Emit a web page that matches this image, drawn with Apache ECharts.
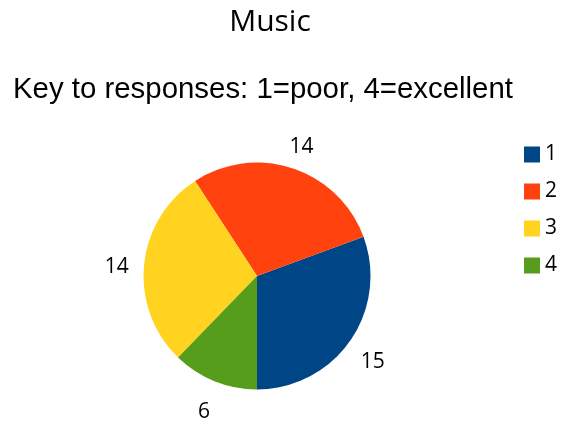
<!DOCTYPE html>
<html>
<head>
<meta charset="utf-8">
<script src="https://cdn.jsdelivr.net/npm/echarts@6/dist/echarts.min.js"></script>
<style>
html,body{margin:0;padding:0;background:#fff;}
#chart{width:576px;height:422px;}
</style>
</head>
<body>
<div id="chart"></div>
<script>
const titleText = 'Music';
const subtitleText = 'Key to responses: 1=poor, 4=excellent';
const categories = ['1', '2', '3', '4'];
const values = [15, 14, 14, 6];
const colors = ['#004586', '#ff420e', '#ffd320', '#579d1c'];

const pieData = categories.map((c, i) => ({ name: c, value: values[i], itemStyle: { color: colors[i] } }));
const labelData = categories.map((c, i) => ({ name: c, value: values[i] }));

const chart = echarts.init(document.getElementById('chart'), null, { renderer: 'canvas' });
chart.setOption({
  animation: false,
  backgroundColor: '#ffffff',
  title: [
    { text: titleText, left: 265, top: 2, textAlign: 'center',
      textStyle: { fontFamily: 'Open Sans', fontSize: 30, fontWeight: 'normal', color: '#000' } },
    { text: subtitleText, left: 13, top: 75, padding: 0,
      textStyle: { fontFamily: 'Liberation Sans', fontSize: 29.4, fontWeight: 'normal', color: '#000' } }
  ],
  legend: {
    orient: 'vertical', left: 519, top: 139,
    itemWidth: 16, itemHeight: 16, itemGap: 16,
    icon: 'rect',
    data: categories,
    textStyle: { fontFamily: 'Open Sans', fontSize: 21, color: '#000' }
  },
  series: [
    {
      type: 'pie', center: [257, 276], radius: 113.5,
      startAngle: 270, clockwise: false,
      label: { show: false }, labelLine: { show: false },
      itemStyle: { borderWidth: 0 },
      emphasis: { disabled: true },
      data: pieData
    },
    {
      type: 'pie', center: [257, 281], radius: [126, 150],
      startAngle: 270, clockwise: false, silent: true,
      itemStyle: { color: 'rgba(0,0,0,0)', borderWidth: 0 },
      label: { show: true, position: 'inside', formatter: '{c}',
        fontFamily: 'Open Sans', fontSize: 21, color: '#000' },
      labelLine: { show: false },
      emphasis: { disabled: true },
      data: labelData
    }
  ]
});
</script>
</body>
</html>
